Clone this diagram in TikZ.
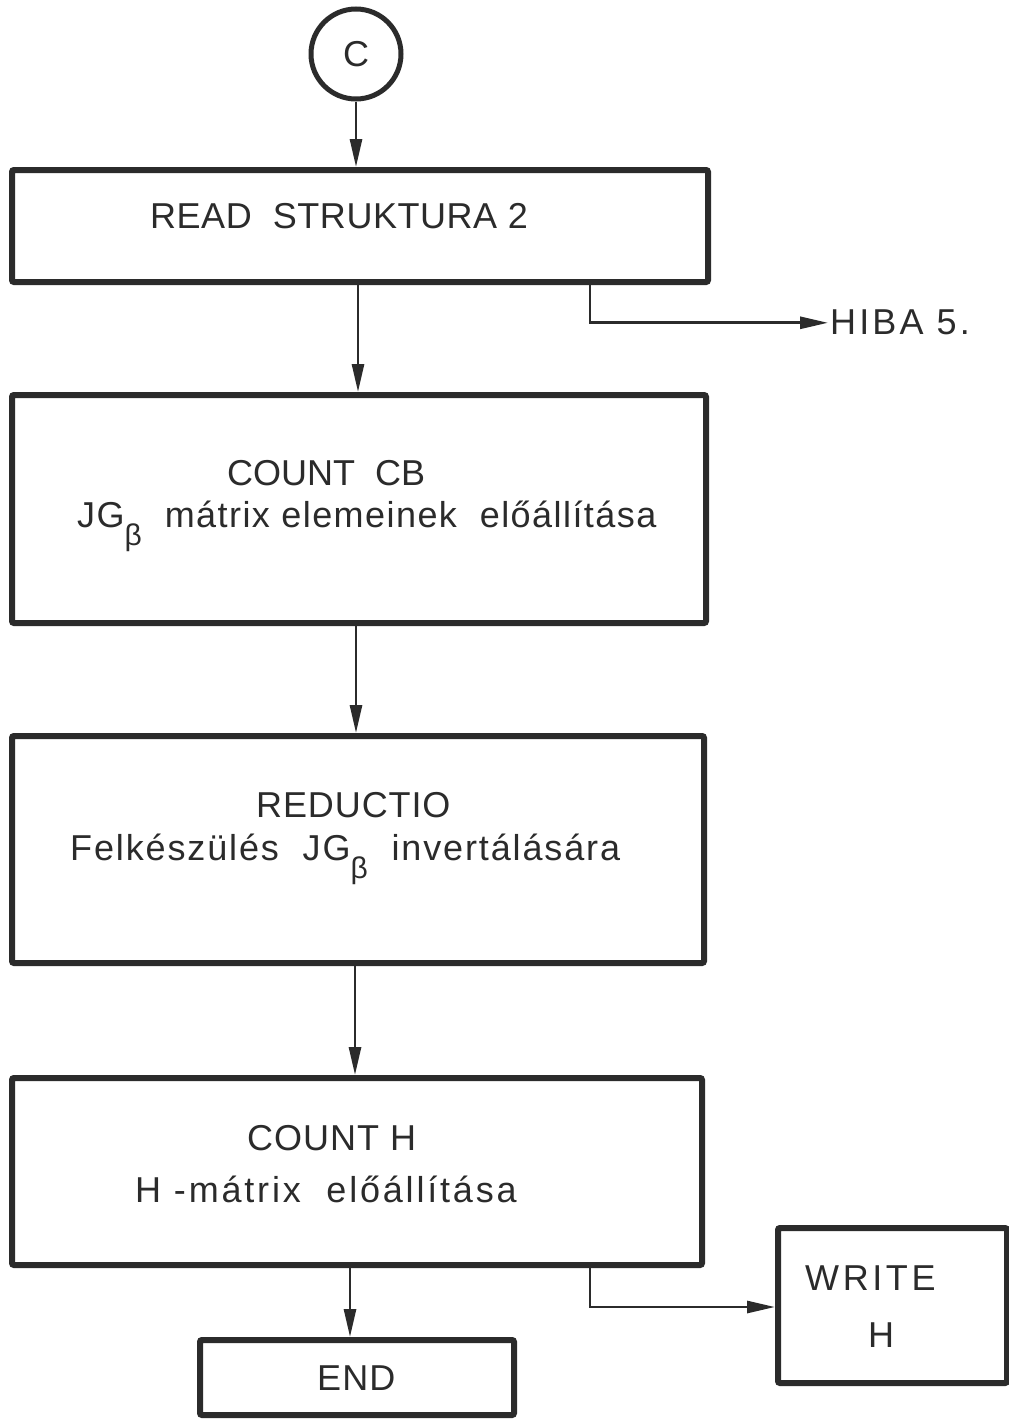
\documentclass[tikz,border=0pt]{standalone}
\usepackage{fontspec}
\setmainfont{Liberation Sans}
\usetikzlibrary{arrows.meta}
\definecolor{ink}{HTML}{2B2B2B}
% subscript beta, set low and large as in stencil lettering
\newcommand{\subbeta}{\raisebox{-0.5em}{\fontsize{30}{30}\selectfont β}}
% tracked text
\newcommand{\tracked}[2]{{\addfontfeature{LetterSpace=#1}#2}}
\begin{document}
\begin{tikzpicture}[x=1pt,y=-1pt,
  every node/.style={text=ink},
  procbox/.style={draw=ink,line width=6pt,rounded corners=2pt,inner sep=0pt},
  label/.style={font=\fontsize{36}{40}\selectfont,inner sep=0pt,anchor=base west},
  conn/.style={draw=ink,line width=2.8pt},
  arr/.style={conn,-{Triangle[length=28pt,width=12pt]}}]
\useasboundingbox[fill=white] (0,0) rectangle (1009,1419);

% connector circle
\node[draw=ink,line width=5pt,circle,minimum size=90pt,inner sep=0pt,
      font=\fontsize{36}{40}\selectfont] (c) at (356,54) {C};

% process boxes
\node[procbox,minimum width=696pt,minimum height=112pt] (b1) at (360,226) {};
\node[procbox,minimum width=694pt,minimum height=228pt] (b2) at (359,509) {};
\node[procbox,minimum width=692pt,minimum height=227pt] (b3) at (358,849.5) {};
\node[procbox,minimum width=690pt,minimum height=187pt] (b4) at (357,1171.5) {};
\node[procbox,minimum width=314pt,minimum height=75pt] (end) at (357,1377.5) {};
\node[procbox,minimum width=229pt,minimum height=155pt] (wr) at (892.5,1305.5) {};

% box texts
\node[label] (t1) at (150,228) {\tracked{1.5}{READ\ \ STRUKTURA 2}};
\node[label] (t2a) at (227,485) {COUNT\ \ CB};
\node[label] (t2b) at (77,527) {\tracked{4}{JG\subbeta\ \ mátrix elemeinek\ \ előállítása}};
\node[label] (t3a) at (256,817) {\tracked{2.5}{REDUCTIO}};
\node[label] (t3b) at (70,860) {\tracked{5.2}{Felkészülés\ \ JG\subbeta\ \ invertálására}};
\node[label] (t4a) at (247,1150) {\tracked{2.8}{COUNT H}};
\node[label] (t4b) at (135,1202) {\tracked{7.8}{H -mátrix\ \ előállítása}};
\node[label] (t5) at (317,1390) {\tracked{3}{END}};
\node[label] (t6a) at (805,1290) {\tracked{10}{WRITE}};
\node[label] (t6b) at (868,1347) {H};
\node[label] (hiba) at (830,334) {\tracked{8.7}{HIBA 5.}};

% main flow
\draw[arr] (c.south) -- (c.south |- b1.north);
\draw[arr] ([xshift=-2pt]b1.south) -- ([xshift=-2pt]b1.south |- b2.north);
\draw[arr] ([xshift=-3pt]b2.south) -- ([xshift=-3pt]b2.south |- b3.north);
\draw[arr] ([xshift=-3pt]b3.south) -- ([xshift=-3pt]b3.south |- b4.north);
\draw[arr] ([xshift=-7pt]b4.south) -- ([xshift=-7pt]b4.south |- end.north);

% side branches
\draw[arr] ([xshift=230pt]b1.south) |- ([xshift=-2pt,yshift=-1pt]hiba.west);
\draw[arr] ([xshift=233pt]b4.south) |- ([yshift=-1.5pt]wr.west);
\end{tikzpicture}
\end{document}
